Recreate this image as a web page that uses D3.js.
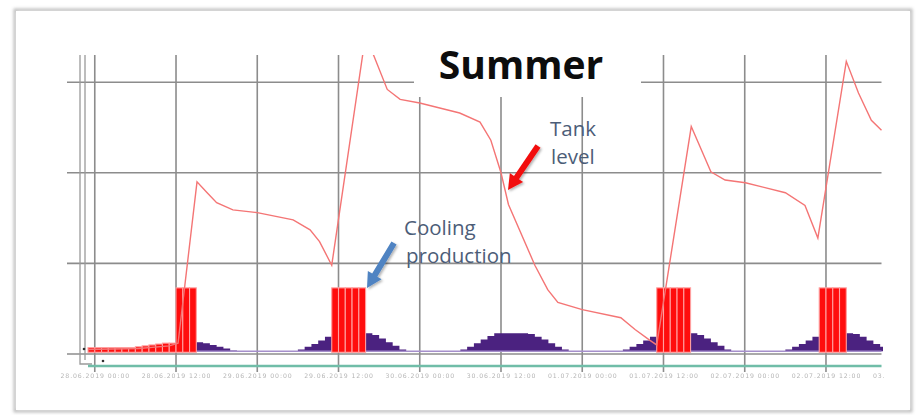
<!DOCTYPE html>
<html>
<head>
<meta charset="utf-8">
<script src="https://cdn.jsdelivr.net/npm/d3@7"></script>
<style>
body{margin:0;background:#fff;}
svg{display:block;}
</style>
</head>
<body>
<div class="container"></div>
<script>
var WIDTH = 918, HEIGHT = 415;

// hours are counted from the first tick, 28.06.2019 00:00
var startDate = new Date(2019, 5, 28, 0, 0);
var tickHours = [0, 12, 24, 36, 48, 60, 72, 84, 96, 108, 120];
var gridValues = [0, 100, 200, 300];

// tank level (red line)
var tankHours = [-1, 6.5, 11, 12.3, 15.1, 16.6, 18, 20.4, 24, 29.3, 31.8, 33.2, 35, 40, 43.2, 45.1, 48, 53.9, 56.9, 58.5, 60, 61.1, 65, 66.9, 68.4, 72, 77.7, 79.8, 82, 83, 88.1, 91, 93.1, 96.1, 102, 104.9, 106.8, 111, 112.8, 114.7, 116.2];
var tankLevel = [5, 6, 9, 12, 190, 178, 167, 159, 156, 148, 137, 124, 98, 352, 292, 281, 277, 266, 256, 236, 200, 165, 98, 71, 57, 49, 40, 27, 15, 10, 251, 201, 192, 189, 178, 164, 128, 323, 288, 258, 247];

// hourly purple profile, first value at hour -1
var solarStart = -1;
var solarValues = [
  3, 3, 3, 3, 3, 3, 3, 3, 3,
  4, 5, 6, 8, 10, 12, 13, 13, 12, 10, 8, 6, 4,
  3, 3, 3, 3, 3, 3, 3, 3, 3,
  5, 8, 11, 15, 19, 22, 23, 23, 23, 23, 23, 21, 17, 13, 9, 5,
  3, 3, 3, 3, 3, 3, 3, 3,
  5, 8, 12, 16, 20, 23, 23, 23, 23, 23, 22, 19, 16, 12, 8, 5,
  3, 3, 3, 3, 3, 3, 3, 3,
  5, 8, 11, 15, 19, 22, 23, 23, 23, 23, 23, 21, 17, 13, 9, 5,
  3, 3, 3, 3, 3, 3, 3, 3,
  5, 8, 11, 15, 19, 22, 23, 23, 23, 23, 22, 19, 15, 11, 8
];

// cooling production, hourly bars
var coolHours = [-1, 0, 1, 2, 3, 4, 5, 6, 7, 8, 9, 10, 11, 12, 13, 14, 35, 36, 37, 38, 39, 83, 84, 85, 86, 87, 107, 108, 109, 110];
var coolValues = [7, 7, 7, 7, 7, 7, 7, 8, 9, 10, 11, 12, 12, 73, 73, 73, 73, 73, 73, 73, 73, 73, 73, 73, 73, 73, 73, 73, 73, 73];

var hour = function(h){ return d3.timeMinute.offset(startDate, Math.round(h * 60)); };

var svg = d3.select('.container').append('svg')
    .attr('width', WIDTH)
    .attr('height', HEIGHT);

var defs = svg.append('defs');
var shadow = defs.append('filter').attr('id', 'shadow').attr('x', '-5%').attr('y', '-5%').attr('width', '110%').attr('height', '110%');
shadow.append('feGaussianBlur').attr('stdDeviation', 1.6);
var soft = defs.append('filter').attr('id', 'soft');
soft.append('feGaussianBlur').attr('stdDeviation', 0.45);
var arrowShadow = defs.append('filter').attr('id', 'ashadow');
arrowShadow.append('feDropShadow').attr('dx', 1.5).attr('dy', 1.5).attr('stdDeviation', 1.2).attr('flood-color', '#000').attr('flood-opacity', 0.3);
defs.append('clipPath').attr('id', 'plotClip')
    .append('rect').attr('x', 86).attr('y', 55).attr('width', 797).attr('height', 300);
// label clip is in the axis group's own coordinates
defs.append('clipPath').attr('id', 'labelClip')
    .append('rect').attr('x', 0).attr('y', -4).attr('width', 884).attr('height', 20);

// outer frame
svg.append('rect')
    .attr('x', 15).attr('y', 10).attr('width', 896).attr('height', 401)
    .attr('fill', 'none').attr('stroke', '#bdbdbd').attr('stroke-width', 3)
    .attr('filter', 'url(#shadow)');
svg.append('rect')
    .attr('x', 16).attr('y', 11).attr('width', 894).attr('height', 399)
    .attr('fill', '#fff');

var xScale = d3.scaleTime()
    .domain([hour(-1), hour(116.2)])
    .range([88, 881.5]);

var yScale = d3.scaleLinear()
    .domain([0, 330])
    .range([354, 55]);

var g = svg.append('g').attr('filter', 'url(#soft)');

// gridlines
var inside = tickHours.filter(function(h){ return hour(h) <= xScale.domain()[1]; });
g.selectAll('line.vgrid').data(inside)
    .enter().append('line')
    .attr('class', 'vgrid')
    .attr('x1', function(h){ return xScale(hour(h)); })
    .attr('x2', function(h){ return xScale(hour(h)); })
    .attr('y1', 55).attr('y2', 372)
    .attr('stroke', '#8c8c8c').attr('stroke-width', 1.6);

g.selectAll('line.hgrid').data(gridValues)
    .enter().append('line')
    .attr('class', 'hgrid')
    .attr('x1', 67).attr('x2', xScale.range()[1])
    .attr('y1', function(d){ return yScale(d); })
    .attr('y2', function(d){ return yScale(d); })
    .attr('stroke', '#8c8c8c').attr('stroke-width', 1.6);

// left axis frame lines
g.append('path')
    .attr('d', 'M80,55V364H92M85,55V360')
    .attr('fill', 'none').attr('stroke', '#9a9a9a').attr('stroke-width', 1.3);
g.append('circle').attr('cx', 84).attr('cy', 349).attr('r', 1.3).attr('fill', '#333');
g.append('circle').attr('cx', 103).attr('cy', 361).attr('r', 1.3).attr('fill', '#333');

// white box behind the title
g.append('rect')
    .attr('x', 414).attr('y', 45).attr('width', 227).attr('height', 52)
    .attr('fill', '#fff');

// purple area
var solar = solarValues.map(function(v, i){ return {t: hour(solarStart + i), v: v}; });
solar.push({t: hour(solarStart + solarValues.length), v: solarValues[solarValues.length - 1]});
var base = d3.min(solarValues);

var area = d3.area()
    .curve(d3.curveStepAfter)
    .x(function(d){ return xScale(d.t); })
    .y0(yScale(base))
    .y1(function(d){ return yScale(d.v); });

g.append('path')
    .attr('d', area(solar))
    .attr('clip-path', 'url(#plotClip)')
    .attr('fill', '#4b2080');

g.append('line')
    .attr('x1', xScale.range()[0]).attr('x2', xScale.range()[1])
    .attr('y1', yScale(base)).attr('y2', yScale(base))
    .attr('stroke', '#a58fcb').attr('stroke-width', 1.6);

// cooling production bars
var cool = coolHours.map(function(h, i){ return {h: h, v: coolValues[i]}; });
g.selectAll('rect.bar').data(cool)
    .enter().append('rect')
    .attr('class', 'bar')
    .attr('x', function(d){ return xScale(hour(d.h)); })
    .attr('width', function(d){ return xScale(hour(d.h + 1)) - xScale(hour(d.h)); })
    .attr('y', function(d){ return yScale(d.v); })
    .attr('height', function(d){ return yScale(base) - yScale(d.v) + 1; })
    .attr('fill', '#ff0d0d')
    .attr('stroke', '#ffa0a0').attr('stroke-width', 1.1);

// tank level line
var tank = tankHours.map(function(h, i){ return {t: hour(h), v: tankLevel[i]}; });
var line = d3.line()
    .x(function(d){ return xScale(d.t); })
    .y(function(d){ return yScale(d.v); });

g.append('path')
    .attr('d', line(tank))
    .attr('clip-path', 'url(#plotClip)')
    .attr('fill', 'none')
    .attr('stroke', '#f47575').attr('stroke-width', 1.4);

// teal baseline
g.append('line')
    .attr('x1', xScale.range()[0]).attr('x2', xScale.range()[1])
    .attr('y1', 366).attr('y2', 366)
    .attr('stroke', '#6fbda8').attr('stroke-width', 2.4);

// x labels
var xAxis = d3.axisBottom(xScale)
    .tickValues(tickHours.map(hour))
    .tickFormat(d3.timeFormat('%d.%m.%Y %H:%M'))
    .tickSize(0)
    .tickPadding(0);

var ax = g.append('g')
    .attr('transform', 'translate(0,372)')
    .attr('clip-path', 'url(#labelClip)')
    .call(xAxis);
ax.select('.domain').remove();
ax.selectAll('text')
    .attr('dy', '0.9em')
    .attr('fill', '#b5b5b5')
    .style('font-family', 'DejaVu Sans')
    .style('font-size', '6.2px')
    .style('letter-spacing', '0.9px');

// title
svg.append('text')
    .attr('x', 521).attr('y', 79)
    .attr('text-anchor', 'middle')
    .style('font-family', 'Open Sans')
    .style('font-weight', 700)
    .style('font-size', '39px')
    .attr('fill', '#0d0d0d')
    .text('Summer');

// annotations
var note = function(x, y, txt){
    svg.append('text')
        .attr('x', x).attr('y', y)
        .style('font-family', 'Open Sans')
        .style('font-size', '20.5px')
        .attr('fill', '#4c5d78')
        .text(txt);
};
note(550, 136, 'Tank');
note(551, 164, 'level');
note(404, 235, 'Cooling');
note(406, 263, 'production');

var arrow = function(x1, y1, x2, y2, color){
    var dx = x2 - x1, dy = y2 - y1, len = Math.sqrt(dx * dx + dy * dy);
    var ux = dx / len, uy = dy / len, px = -uy, py = ux;
    var hl = 15, hw = 8, sw = 3;
    var bx = x2 - ux * hl, by = y2 - uy * hl;
    var pts = [
        [x1 + px * sw, y1 + py * sw],
        [bx + px * sw, by + py * sw],
        [bx + px * hw, by + py * hw],
        [x2, y2],
        [bx - px * hw, by - py * hw],
        [bx - px * sw, by - py * sw],
        [x1 - px * sw, y1 - py * sw]
    ];
    svg.append('polygon')
        .attr('points', pts.map(function(p){ return p.join(','); }).join(' '))
        .attr('fill', color)
        .attr('filter', 'url(#ashadow)');
};
arrow(538, 146, 508, 190, '#f20f0f');
arrow(394, 243, 367, 288, '#4f83c2');
</script>
</body>
</html>
